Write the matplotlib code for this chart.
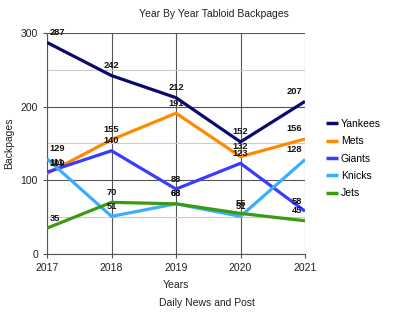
import matplotlib
matplotlib.use("Agg")
import matplotlib.pyplot as plt

plt.rcParams['font.family'] = ['Liberation Sans', 'DejaVu Sans']

years = [2017, 2018, 2019, 2020, 2021]
series_names = ["Yankees", "Mets", "Giants", "Knicks", "Jets"]
yankees = [287, 242, 212, 152, 207]
mets = [109, 155, 191, 132, 156]
giants = [111, 140, 88, 123, 58]
knicks = [129, 51, 68, 51, 128]
jets = [35, 70, 68, 55, 45]
colors = ["#0a0a6e", "#ff8a00", "#3b3bff", "#3aadff", "#3a9a10"]

fig = plt.figure(figsize=(4.0, 3.19), dpi=100)
ax = fig.add_axes([0.1175, 0.204, 0.645, 0.693])

for name, vals, c in zip(series_names, [yankees, mets, giants, knicks, jets], colors):
    ax.plot(years, vals, color=c, lw=2.3, label=name, solid_capstyle='butt', zorder=3)
    for i, (x, v) in enumerate(zip(years, vals)):
        if i == 0:
            ha, dx = 'left', 2
        elif i == len(years) - 1:
            ha, dx = 'right', -2
        else:
            ha, dx = 'center', 0
        ax.annotate(str(v), (x, v), xytext=(dx, 4), textcoords='offset points',
                    ha=ha, va='bottom', fontsize=6.7, fontweight='bold', color='#111111', zorder=4)

ax.set_xlim(2017, 2021)
ax.set_ylim(0, 300)
ax.set_xticks(years)
ax.set_yticks([0, 100, 200, 300])
ax.set_yticks([50, 150, 250], minor=True)
ax.grid(True, which='major', color='#555555', lw=0.8, zorder=1)
ax.grid(True, which='minor', axis='y', color='#cccccc', lw=0.8, zorder=1)
ax.tick_params(axis='both', which='major', labelsize=7.5, length=3, color='#555555', labelcolor='#222222')
ax.tick_params(axis='y', which='minor', length=0)
for s in ['top', 'right']:
    ax.spines[s].set_visible(False)
for s in ['left', 'bottom']:
    ax.spines[s].set_color('#555555')
    ax.spines[s].set_linewidth(0.8)

ax.set_xlabel("Years", fontsize=7.5, color='#222222', labelpad=5)
ax.set_ylabel("Backpages", fontsize=7.5, color='#222222', labelpad=5)
fig.text(0.535, 0.955, "Year By Year Tabloid Backpages", ha='center', va='center', fontsize=7.5, color='#222222')
fig.text(0.517, 0.05, "Daily News and Post", ha='center', va='center', fontsize=7.5, color='#222222')

leg = fig.legend(loc='upper left', bbox_to_anchor=(0.805, 0.64), frameon=False, fontsize=7.5,
                 handlelength=1.1, handletextpad=0.3, labelspacing=0.7, borderaxespad=0)
for line in leg.get_lines():
    line.set_linewidth(2.5)

fig.savefig("out.png", dpi=100)
